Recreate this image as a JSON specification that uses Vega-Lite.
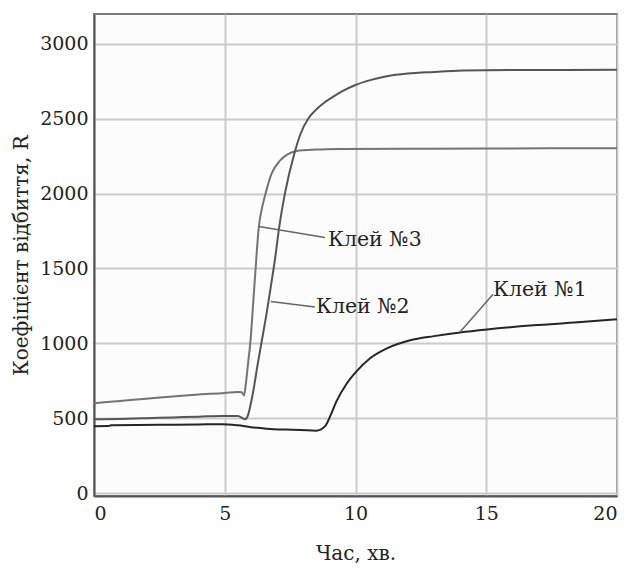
{
  "$schema": "https://vega.github.io/schema/vega-lite/v6.json",
  "width": 523,
  "height": 482,
  "autosize": {"type": "none"},
  "padding": {"left": 94, "top": 14, "right": 7, "bottom": 73},
  "background": "white",
  "config": {
    "font": "DejaVu Serif",
    "view": {"stroke": "#7a7a7a", "strokeWidth": 2, "fill": "#fcfcfc"},
    "axis": {
      "labelFont": "DejaVu Serif",
      "titleFont": "DejaVu Serif",
      "labelFontSize": 19,
      "titleFontSize": 20,
      "labelColor": "#222",
      "titleColor": "#222",
      "titleFontWeight": "normal",
      "gridColor": "#cbcbcb",
      "gridWidth": 2,
      "domainColor": "#555",
      "domainWidth": 2,
      "ticks": false
    }
  },
  "datasets": {
    "curves": [
      {"t": 0, "r": 600, "s": "3"}, {"t": 1, "r": 615, "s": "3"}, {"t": 2, "r": 630, "s": "3"}, {"t": 3, "r": 645, "s": "3"}, {"t": 4, "r": 658, "s": "3"}, {"t": 5, "r": 668, "s": "3"}, {"t": 5.5, "r": 675, "s": "3"}, {"t": 5.65, "r": 673, "s": "3"}, {"t": 5.74, "r": 652, "s": "3"}, {"t": 5.8, "r": 720, "s": "3"}, {"t": 5.9, "r": 880, "s": "3"}, {"t": 5.98, "r": 1007, "s": "3"}, {"t": 6.08, "r": 1250, "s": "3"}, {"t": 6.18, "r": 1500, "s": "3"}, {"t": 6.3, "r": 1773, "s": "3"}, {"t": 6.42, "r": 1900, "s": "3"}, {"t": 6.56, "r": 2000, "s": "3"}, {"t": 6.79, "r": 2133, "s": "3"}, {"t": 7.11, "r": 2220, "s": "3"}, {"t": 7.4, "r": 2262, "s": "3"}, {"t": 7.75, "r": 2285, "s": "3"}, {"t": 8.5, "r": 2294, "s": "3"}, {"t": 9.4, "r": 2298, "s": "3"}, {"t": 12, "r": 2300, "s": "3"}, {"t": 15, "r": 2302, "s": "3"}, {"t": 20, "r": 2303, "s": "3"},
      {"t": 0, "r": 492, "s": "2"}, {"t": 1, "r": 495, "s": "2"}, {"t": 2, "r": 500, "s": "2"}, {"t": 3, "r": 505, "s": "2"}, {"t": 4, "r": 510, "s": "2"}, {"t": 4.9, "r": 515, "s": "2"}, {"t": 5.5, "r": 515, "s": "2"}, {"t": 5.78, "r": 493, "s": "2"}, {"t": 5.88, "r": 515, "s": "2"}, {"t": 6.0, "r": 600, "s": "2"}, {"t": 6.11, "r": 700, "s": "2"}, {"t": 6.25, "r": 850, "s": "2"}, {"t": 6.41, "r": 1010, "s": "2"}, {"t": 6.6, "r": 1200, "s": "2"}, {"t": 6.78, "r": 1400, "s": "2"}, {"t": 6.92, "r": 1560, "s": "2"}, {"t": 7.08, "r": 1773, "s": "2"}, {"t": 7.3, "r": 2000, "s": "2"}, {"t": 7.66, "r": 2267, "s": "2"}, {"t": 7.9, "r": 2400, "s": "2"}, {"t": 8.19, "r": 2500, "s": "2"}, {"t": 8.5, "r": 2562, "s": "2"}, {"t": 8.8, "r": 2607, "s": "2"}, {"t": 9.15, "r": 2648, "s": "2"}, {"t": 9.5, "r": 2685, "s": "2"}, {"t": 10, "r": 2726, "s": "2"}, {"t": 10.6, "r": 2760, "s": "2"}, {"t": 11.2, "r": 2784, "s": "2"}, {"t": 12, "r": 2802, "s": "2"}, {"t": 13, "r": 2813, "s": "2"}, {"t": 14.1, "r": 2822, "s": "2"}, {"t": 16, "r": 2826, "s": "2"}, {"t": 20, "r": 2827, "s": "2"},
      {"t": 0, "r": 446, "s": "1"}, {"t": 0.55, "r": 447, "s": "1"}, {"t": 0.65, "r": 453, "s": "1"}, {"t": 2.5, "r": 456, "s": "1"}, {"t": 4.0, "r": 458, "s": "1"}, {"t": 4.9, "r": 460, "s": "1"}, {"t": 5.5, "r": 452, "s": "1"}, {"t": 6.0, "r": 440, "s": "1"}, {"t": 6.6, "r": 430, "s": "1"}, {"t": 7.3, "r": 424, "s": "1"}, {"t": 7.9, "r": 421, "s": "1"}, {"t": 8.5, "r": 416, "s": "1"}, {"t": 8.83, "r": 445, "s": "1"}, {"t": 9.05, "r": 520, "s": "1"}, {"t": 9.28, "r": 615, "s": "1"}, {"t": 9.66, "r": 730, "s": "1"}, {"t": 10.02, "r": 809, "s": "1"}, {"t": 10.56, "r": 900, "s": "1"}, {"t": 11.2, "r": 966, "s": "1"}, {"t": 12.09, "r": 1020, "s": "1"}, {"t": 13, "r": 1048, "s": "1"}, {"t": 14, "r": 1073, "s": "1"}, {"t": 15.03, "r": 1093, "s": "1"}, {"t": 16.8, "r": 1120, "s": "1"}, {"t": 18.5, "r": 1140, "s": "1"}, {"t": 20, "r": 1160, "s": "1"}
    ],
    "labels": [
      {"x1": 6.3, "y1": 1780, "x2": 8.83, "y2": 1707, "tx": 8.95, "ty": 1687, "label": "Клей №3"},
      {"x1": 6.76, "y1": 1280, "x2": 8.45, "y2": 1242, "tx": 8.49, "ty": 1242, "label": "Клей №2"},
      {"x1": 14.0, "y1": 1075, "x2": 15.26, "y2": 1327, "tx": 15.26, "ty": 1353, "label": "Клей №1"}
    ]
  },
  "layer": [
    {
      "data": {"name": "curves"},
      "mark": {"type": "line", "strokeWidth": 2, "interpolate": "monotone"},
      "encoding": {
        "x": {
          "field": "t", "type": "quantitative",
          "scale": {"domain": [0, 20], "nice": false},
          "axis": {"values": [0, 5, 10, 15, 20], "format": "d", "title": "Час, хв.", "labelFlush": true, "labelPadding": 8, "titleY": 57, "titleBaseline": "middle"}
        },
        "y": {
          "field": "r", "type": "quantitative",
          "scale": {"domain": [-20, 3200], "nice": false, "zero": false},
          "axis": {"values": [0, 500, 1000, 1500, 2000, 2500, 3000], "format": "d", "title": "Коефіцієнт відбиття, R", "labelPadding": 6, "titleX": -73, "titleY": 241, "titleAlign": "center", "titleBaseline": "middle", "titleAngle": -90}
        },
        "color": {
          "field": "s", "type": "nominal",
          "scale": {"domain": ["1", "2", "3"], "range": ["#252525", "#555555", "#747474"]},
          "legend": null
        },
        "detail": {"field": "s"}
      }
    },
    {
      "data": {"name": "labels"},
      "mark": {"type": "rule", "color": "#666", "strokeWidth": 1.5},
      "encoding": {
        "x": {"field": "x1", "type": "quantitative"},
        "y": {"field": "y1", "type": "quantitative"},
        "x2": {"field": "x2"},
        "y2": {"field": "y2"}
      }
    },
    {
      "data": {"name": "labels"},
      "mark": {"type": "text", "align": "left", "baseline": "middle", "font": "DejaVu Serif", "fontSize": 20.5, "color": "#222"},
      "encoding": {
        "x": {"field": "tx", "type": "quantitative"},
        "y": {"field": "ty", "type": "quantitative"},
        "text": {"field": "label"}
      }
    }
  ]
}
